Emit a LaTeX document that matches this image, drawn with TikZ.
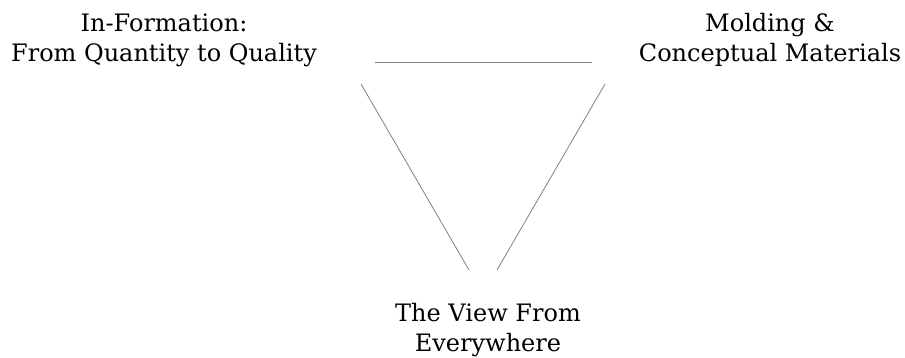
\documentclass[tikz,border=0pt]{standalone}
\usepackage{fontspec}
\setmainfont{DejaVu Serif}
\begin{document}
\begin{tikzpicture}[x=1pt,y=-1pt,
  lbl/.style={align=center,font=\fontsize{24}{30}\selectfont,inner sep=0pt,text=black},
  edge/.style={draw=black!50,line width=0.8pt}]
\useasboundingbox (0,0) rectangle (905,358);
\node[lbl] (a) at (164,40) {In-Formation:\\From Quantity to Quality};
\node[lbl] (b) at (770,40) {Molding \&\\Conceptual Materials};
\node[lbl] (c) at (488,330) {The View From\\Everywhere};
\coordinate (ab1) at (375,62);
\coordinate (ab2) at (592,62);
\coordinate (ac1) at (361,84);
\coordinate (ac2) at (469,270);
\coordinate (bc1) at (605,84);
\coordinate (bc2) at (497,270);
\draw[edge] (ab1) -- (ab2);
\draw[edge] (ac1) -- (ac2);
\draw[edge] (bc1) -- (bc2);
\end{tikzpicture}
\end{document}
